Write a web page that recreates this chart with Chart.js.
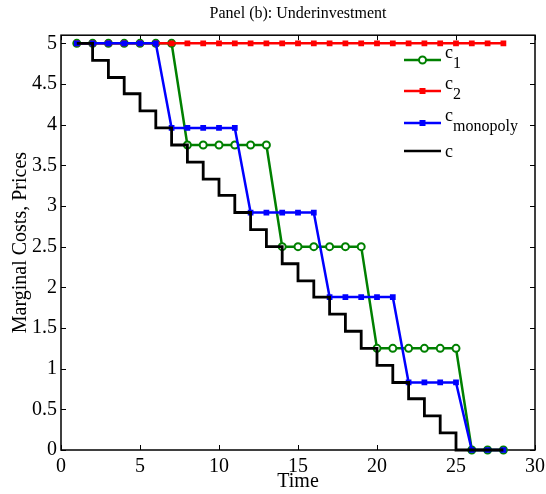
<!DOCTYPE html>
<html>
<head>
<meta charset="utf-8">
<script src="https://cdn.jsdelivr.net/npm/chart.js@4"></script>
<style>
  html, body { margin: 0; padding: 0; background: #fff; }
  #wrap { width: 546px; height: 494px; }
</style>
</head>
<body>
<div id="wrap"><canvas id="myChart"></canvas></div>
<script>
const serif = '"Liberation Serif", "Times New Roman", serif';

// time periods
const periods = [1, 2, 3, 4, 5, 6, 7, 8, 9, 10, 11, 12, 13, 14, 15, 16, 17, 18, 19, 20, 21, 22, 23, 24, 25, 26, 27, 28];

// price of firm 1 (green circles)
const c1 = [5, 5, 5, 5, 5, 5, 5, 3.75, 3.75, 3.75, 3.75, 3.75, 3.75, 2.5, 2.5, 2.5, 2.5, 2.5, 2.5,
  1.25, 1.25, 1.25, 1.25, 1.25, 1.25, 0, 0, 0];
// price of firm 2 (red squares)
const c2 = [5, 5, 5, 5, 5, 5, 5, 5, 5, 5, 5, 5, 5, 5, 5, 5, 5, 5, 5, 5, 5, 5, 5, 5, 5, 5, 5, 5];
// monopoly price (blue squares)
const cMonopoly = [5, 5, 5, 5, 5, 5, 3.96, 3.96, 3.96, 3.96, 3.96, 2.92, 2.92, 2.92, 2.92, 2.92,
  1.88, 1.88, 1.88, 1.88, 1.88, 0.83, 0.83, 0.83, 0.83, 0, 0, 0];
// marginal cost (black steps)
const c = [5, 4.79, 4.58, 4.38, 4.17, 3.96, 3.75, 3.54, 3.33, 3.13, 2.92, 2.71, 2.5, 2.29, 2.08,
  1.88, 1.67, 1.46, 1.25, 1.04, 0.83, 0.63, 0.42, 0.21, 0, 0, 0, 0];

const xTicks = [0, 5, 10, 15, 20, 25, 30];
const yTicks = [0, 0.5, 1, 1.5, 2, 2.5, 3, 3.5, 4, 4.5, 5];

function pts(arr) {
  return arr.map((v, i) => ({ x: periods[i], y: v }));
}

// box round the plot and inward ticks on all four sides
const frame = {
  id: 'frame',
  beforeDatasetsDraw(chart) {
    const { ctx, chartArea: a, scales: { x, y } } = chart;
    ctx.save();
    ctx.strokeStyle = '#000';
    ctx.lineWidth = 1;
    ctx.beginPath();
    xTicks.forEach(t => {
      const px = Math.round(x.getPixelForValue(t)) + 0.5;
      ctx.moveTo(px, a.bottom); ctx.lineTo(px, a.bottom - 5);
      ctx.moveTo(px, a.top); ctx.lineTo(px, a.top + 5);
    });
    yTicks.forEach(t => {
      const py = Math.round(y.getPixelForValue(t)) + 0.5;
      ctx.moveTo(a.left, py); ctx.lineTo(a.left + 5, py);
      ctx.moveTo(a.right, py); ctx.lineTo(a.right - 5, py);
    });
    ctx.stroke();
    ctx.lineWidth = 1.5;
    ctx.strokeRect(a.left, a.top, a.right - a.left, a.bottom - a.top);
    ctx.restore();
  }
};

// legend with subscripts, top right inside the plot
const legendItems = [
  { main: 'c', sub: '1', color: '#008000', marker: 'circle', y: 60 },
  { main: 'c', sub: '2', color: '#ff0000', marker: 'rect', y: 91 },
  { main: 'c', sub: 'monopoly', color: '#0000ff', marker: 'rect', y: 123 },
  { main: 'c', sub: '', color: '#000000', marker: null, y: 151 }
];

const subLegend = {
  id: 'subLegend',
  afterDraw(chart) {
    const ctx = chart.ctx;
    ctx.save();
    legendItems.forEach(it => {
      ctx.strokeStyle = it.color;
      ctx.lineWidth = 2.5;
      ctx.beginPath();
      ctx.moveTo(404, it.y);
      ctx.lineTo(441, it.y);
      ctx.stroke();
      if (it.marker === 'circle') {
        ctx.fillStyle = '#fff';
        ctx.lineWidth = 2;
        ctx.beginPath();
        ctx.arc(422.5, it.y, 3.5, 0, Math.PI * 2);
        ctx.fill();
        ctx.stroke();
      } else if (it.marker === 'rect') {
        ctx.fillStyle = it.color;
        ctx.fillRect(419.5, it.y - 3, 6, 6);
      }
      ctx.fillStyle = '#000';
      ctx.textAlign = 'left';
      ctx.textBaseline = 'alphabetic';
      ctx.font = '18px ' + serif;
      if (it.sub) {
        ctx.fillText(it.main, 445, it.y - 2);
        const w = ctx.measureText(it.main).width;
        ctx.font = '16px ' + serif;
        ctx.fillText(it.sub, 445 + w, it.y + 8);
      } else {
        ctx.fillText(it.main, 445, it.y + 6);
      }
    });
    ctx.restore();
  }
};

function lineSet(label, data, color, marker, order) {
  return {
    label: label,
    data: pts(data),
    borderColor: color,
    backgroundColor: marker === 'circle' ? '#fff' : color,
    borderWidth: 2.5,
    pointStyle: marker || false,
    pointRadius: marker === 'circle' ? 3.5 : (marker ? 3 : 0),
    pointBorderWidth: marker === 'circle' ? 2 : 1.5,
    pointBorderColor: color,
    pointBackgroundColor: marker === 'circle' ? '#fff' : color,
    clip: false,
    order: order
  };
}

const dsC = lineSet('c', c, '#000000', null, 0);
dsC.stepped = 'before';
dsC.borderWidth = 2.8;

const data = {
  datasets: [
    lineSet('c1', c1, '#008000', 'circle', 3),
    lineSet('c2', c2, '#ff0000', 'rect', 2),
    lineSet('cmonopoly', cMonopoly, '#0000ff', 'rect', 1),
    dsC
  ]
};

const config = {
  type: 'line',
  data: data,
  options: {
    responsive: true,
    maintainAspectRatio: false,
    animation: false,
    layout: { padding: { left: 0, right: 11, top: 0, bottom: 0 } },
    plugins: {
      legend: { display: false },
      tooltip: { enabled: false },
      title: {
        display: true,
        fullSize: false, // centre over the plot, not the canvas
        text: 'Panel (b): Underinvestment',
        color: '#000',
        font: { family: serif, size: 16, weight: 'normal' },
        padding: { top: 4, bottom: 12 }
      }
    },
    scales: {
      x: {
        type: 'linear',
        min: 0,
        max: 30,
        afterFit(s) { s.height = 44; s.paddingLeft = 0; s.paddingRight = 0; },
        grid: { display: false, drawTicks: false },
        border: { display: false },
        ticks: {
          stepSize: 5,
          color: '#000',
          padding: 5,
          maxRotation: 0,
          font: { family: serif, size: 20 }
        },
        title: {
          display: true,
          text: 'Time',
          color: '#000',
          font: { family: serif, size: 20 },
          padding: { top: 0, bottom: 0 }
        }
      },
      y: {
        type: 'linear',
        min: 0,
        max: 5.1,
        afterFit(s) { s.width = 61; s.paddingTop = 0; s.paddingBottom = 0; },
        grid: { display: false, drawTicks: false },
        border: { display: false },
        ticks: {
          stepSize: 0.5,
          includeBounds: false,
          color: '#000',
          padding: 4,
          font: { family: serif, size: 20 },
          callback: v => String(Math.round(v * 10) / 10)
        },
        title: {
          display: true,
          text: 'Marginal Costs, Prices',
          color: '#000',
          font: { family: serif, size: 20 },
          padding: { top: 9, bottom: 0 }
        }
      }
    }
  },
  plugins: [frame, subLegend]
};

const myChart = new Chart('myChart', config);
</script>
</body>
</html>
